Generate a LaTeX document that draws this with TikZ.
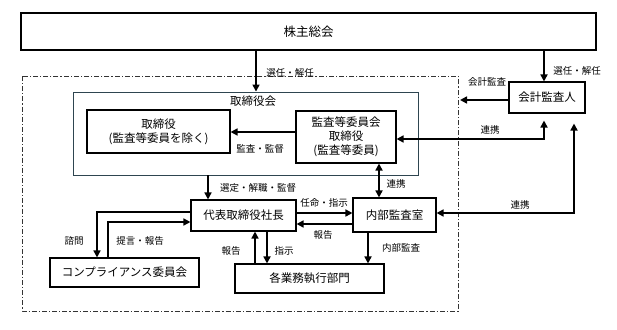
\documentclass[tikz,border=0pt]{standalone}
\usepackage{fontspec}
\setmainfont{Noto Sans CJK JP}
\usetikzlibrary{arrows.meta,calc}
\definecolor{boardc}{HTML}{2E4550}
\tikzset{
  box/.style={draw=black,line width=1.1pt,fill=white,inner sep=1pt,align=center,font=\fontsize{11.5}{14}\selectfont},
  arr/.style={line width=1.6pt,-{Triangle[length=7pt,width=7pt]}},
  darr/.style={line width=1.6pt,{Triangle[length=7pt,width=7pt]}-{Triangle[length=7pt,width=7pt]}},
  lbl/.style={font=\fontsize{9.5}{11}\selectfont,inner sep=0pt}
}
\begin{document}
\begin{tikzpicture}[x=1pt,y=-1pt]
\useasboundingbox (0,0) rectangle (617,329);
% outer dash-dot frame
\draw[line width=0.7pt,dash pattern=on 5pt off 2pt on 1.2pt off 2pt,black!80] (22,76) rectangle (458,311);
% nodes
\node[box,minimum width=575pt,minimum height=37pt,font=\fontsize{12.5}{15}\selectfont] (kabu) at (308.5,31.5) {株主総会};
\node[draw=boardc,line width=0.9pt,minimum width=345pt,minimum height=83pt,inner sep=0pt] (torikai) at (245.5,133.5) {};
\node[inner sep=0pt,font=\fontsize{11.5}{14}\selectfont] (torikaititle) at (253,101) {取締役会};
\node[box,minimum width=143pt,minimum height=43pt] (tori) at (158.5,131.5) {取締役\\(監査等委員を除く)};
\node[box,minimum width=100pt,minimum height=52pt] (kansa) at (346,137) {監査等委員会\\取締役\\(監査等委員)};
\node[box,minimum width=76pt,minimum height=31pt] (kaikei) at (547,97.5) {会計監査人};
\node[box,minimum width=105pt,minimum height=31pt] (daihyo) at (243.5,215.5) {代表取締役社長};
\node[box,minimum width=83pt,minimum height=34pt] (naibu) at (394.5,215) {内部監査室};
\node[box,minimum width=149pt,minimum height=29pt] (gyomu) at (309.5,278.5) {各業務執行部門};
\node[box,minimum width=149pt,minimum height=29pt] (comp) at (124.5,272.5) {コンプライアンス委員会};
\coordinate (kaikeiend) at (460,100);
% connectors
\draw[arr] (256,0 |- kabu.south) -- (256,0 |- torikai.north);
\draw[arr] (544,0 |- kabu.south) -- (544,0 |- kaikei.north);
\draw[arr] (kaikei.west |- kaikeiend) -- (kaikeiend);
\draw[arr] (kansa.west |- 0,132) -- (tori.east |- 0,132);
\draw[darr,shorten >=7pt] (kansa.east |- 0,139) -| (544,0 |- kaikei.south);
\draw[darr] (379,0 |- kansa.south) -- (379,0 |- naibu.north);
\draw[arr] (208,0 |- torikai.south) -- (208,0 |- daihyo.north);
\draw[arr] (daihyo.east |- 0,213) -- (naibu.west |- 0,213);
\draw[arr] (naibu.west |- 0,224) -- (daihyo.east |- 0,224);
\draw[darr,shorten >=10pt] (naibu.east |- 0,213) -| (574,0 |- kaikei.south);
\draw[arr] (368,0 |- naibu.south) -- (368,0 |- gyomu.north);
\draw[arr] (255,0 |- gyomu.north) -- (255,0 |- daihyo.south);
\draw[arr] (267,0 |- daihyo.south) -- (267,0 |- gyomu.north);
\draw[arr] (daihyo.west |- 0,212) -| (97,0 |- comp.north);
\draw[arr] (108,0 |- comp.north) |- (daihyo.west |- 0,222);
% labels
\node[lbl] (l1) at (290,73) {選任・解任};
\node[lbl] (l2) at (577,71) {選任・解任};
\node[lbl] (l3) at (487,82) {会計監査};
\node[lbl] (l4) at (260,149) {監査・監督};
\node[lbl] (l5) at (490,130) {連携};
\node[lbl] (l6) at (396,184) {連携};
\node[lbl] (l7) at (258,188) {選定・解職・監督};
\node[lbl] (l8) at (324,203) {任命・指示};
\node[lbl] (l9) at (323,235) {報告};
\node[lbl] (l10) at (520,205) {連携};
\node[lbl] (l11) at (401,248) {内部監査};
\node[lbl] (l12) at (231,251) {報告};
\node[lbl] (l13) at (284,251) {指示};
\node[lbl] (l14) at (74,241) {諮問};
\node[lbl] (l15) at (140,241) {提言・報告};
\end{tikzpicture}
\end{document}
